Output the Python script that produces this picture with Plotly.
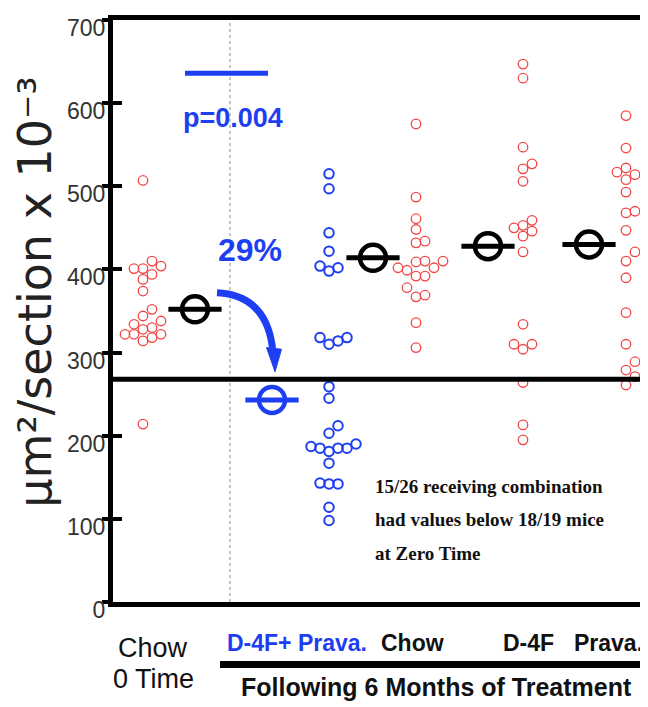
import plotly.graph_objects as go

# ---------------- data ----------------
group_labels = ["Chow 0 Time", "D-4F+ Prava.", "Chow", "D-4F", "Prava."]
chow_0_time = [507, 410, 401, 401, 404, 394, 388, 374, 352, 344, 338, 334, 328,
               330, 318, 322, 322, 322, 314, 214]
d4f_prava = [515, 497, 444, 422, 402, 398, 404, 314, 318, 310, 318, 259, 245,
             212, 203, 185, 187, 190, 181, 185, 185, 167, 142, 142, 143, 114, 98]
chow_6mo = [575, 487, 461, 448, 434, 432, 410, 410, 409, 402, 402, 399, 392,
            392, 378, 367, 369, 336, 306]
d4f_6mo = [647, 630, 547, 527, 521, 506, 459, 450, 453, 446, 440, 421, 334,
           310, 304, 310, 264, 213, 195]
prava_6mo = [585, 546, 522, 517, 514, 508, 493, 468, 470, 447, 421, 410, 390,
             348, 310, 289, 279, 271, 261]
group_means = [352, 243, 414, 428, 430]
zero_time_threshold = 268
p_bar_level = 636
y_ticks = [0, 100, 200, 300, 400, 500, 600, 700]

series = [chow_0_time, d4f_prava, chow_6mo, d4f_6mo, prava_6mo]

# ---------------- layout constants ----------------
W, H = 648, 707
BODY = 8  # default page margin of the html body
ML, MR, MT, MB = 113 - BODY, BODY, 15 - BODY, H - 602 + BODY
X_RANGE = [0.70, 6.05]
Y_RANGE = [0, 700]
PX_X = (W - ML - MR) / (X_RANGE[1] - X_RANGE[0])
PX_Y = (H - MT - MB) / (Y_RANGE[1] - Y_RANGE[0])

point_x = [1.00, 2.86, 3.73, 4.80, 5.83]
mean_x = [1.52, 2.29, 3.30, 4.45, 5.46]

RED = "#f24646"
BLUE = "#1e3ef2"
BLACK = "#000000"
point_colors = [RED, BLUE, RED, RED, RED]
mean_colors = [BLACK, BLUE, BLACK, BLACK, BLACK]


def swarm_offsets(vals, step=9.0, dw=9.0, dh=10.0):
    """Deterministic beeswarm: spread colliding points sideways (pixel space)."""
    placed = []
    offs = [0.0] * len(vals)
    order = sorted(range(len(vals)), key=lambda i: vals[i])
    for i in order:
        yi = vals[i] * PX_Y
        chosen = 0.0
        for k in [0, 1, -1, 2, -2, 3, -3, 4, -4]:
            dx = k * step
            if all(((dx - px) / dw) ** 2 + ((yi - py) / dh) ** 2 >= 1 for px, py in placed):
                chosen = dx
                break
        placed.append((chosen, yi))
        offs[i] = chosen / PX_X
    return offs


fig = go.Figure()

for vals, cx, col in zip(series, point_x, point_colors):
    offs = swarm_offsets(vals)
    fig.add_trace(go.Scatter(
        x=[cx + o for o in offs], y=vals, mode="markers",
        marker=dict(symbol="circle-open", size=9.5, color=col,
                    line=dict(width=2.0 if col == BLUE else 1.3, color=col)),
        showlegend=False, hoverinfo="y"))

for mx, mv, col in zip(mean_x, group_means, mean_colors):
    fig.add_trace(go.Scatter(
        x=[mx], y=[mv], mode="markers",
        marker=dict(symbol="line-ew", size=38, color=col, line=dict(width=5, color=col)),
        showlegend=False, hoverinfo="skip"))
    fig.add_trace(go.Scatter(
        x=[mx], y=[mv], mode="markers",
        marker=dict(symbol="circle-open", size=26, color=col, line=dict(width=4.5, color=col)),
        showlegend=False, hoverinfo="y"))

# invisible trace on the overlay axis (inside tick half)
fig.add_trace(go.Scatter(x=[X_RANGE[0]], y=[0], yaxis="y2", mode="markers",
                         marker=dict(opacity=0), showlegend=False, hoverinfo="skip"))

shapes = []
shapes.append(dict(type="line", xref="x", yref="paper", x0=1.87, x1=1.87, y0=0, y1=1,
                   line=dict(color="#8a8a8a", width=1, dash="dot"), layer="below"))
shapes.append(dict(type="line", xref="paper", yref="y", x0=0, x1=1,
                   y0=zero_time_threshold, y1=zero_time_threshold,
                   line=dict(color=BLACK, width=5)))
shapes.append(dict(type="line", xref="x", yref="y", x0=1.42, x1=2.25,
                   y0=p_bar_level, y1=p_bar_level, line=dict(color=BLUE, width=5)))
shapes.append(dict(type="path", xref="x", yref="y",
                   path="M 1.74,372 Q 2.25,369 2.30,300",
                   line=dict(color=BLUE, width=7)))
shapes.append(dict(type="path", xref="x", yref="y",
                   path="M 2.235,306 L 2.385,304 L 2.32,277 Z",
                   fillcolor=BLUE, line=dict(color=BLUE, width=1)))
shapes.append(dict(type="line", xref="paper", yref="paper", x0=(220 - 113) / 535, x1=1.05,
                   y0=(602 - 665) / 587, y1=(602 - 665) / 587,
                   line=dict(color=BLACK, width=7)))

SANS = "Liberation Sans, Arial, sans-serif"
SERIF = "Liberation Serif, Times New Roman, serif"


def py2paper(py):
    return (602 - py) / 587


LAB_Y = py2paper(643)
annotations = [
    dict(text="μm²/section x 10⁻³", xref="paper", yref="paper",
         x=(35 - 113) / 535, y=py2paper(290), textangle=-90, showarrow=False,
         font=dict(family="DejaVu Sans", size=46, color="#222222"),
         xanchor="center", yanchor="middle"),
    dict(text="<b>p=0.004</b>", xref="x", yref="y", x=1.895, y=582, showarrow=False,
         font=dict(family=SANS, size=27, color=BLUE)),
    dict(text="<b>29%</b>", xref="x", yref="y", x=2.07, y=423, showarrow=False,
         font=dict(family=SANS, size=32, color=BLUE)),
    dict(text="<b>15/26 receiving combination</b>", xref="x", yref="y", x=3.30, y=139,
         xanchor="left", showarrow=False, font=dict(family=SERIF, size=19, color="#111111")),
    dict(text="<b>had values below 18/19 mice</b>", xref="x", yref="y", x=3.30, y=99,
         xanchor="left", showarrow=False, font=dict(family=SERIF, size=19, color="#111111")),
    dict(text="<b>at Zero Time</b>", xref="x", yref="y", x=3.30, y=58,
         xanchor="left", showarrow=False, font=dict(family=SERIF, size=19, color="#111111")),
    dict(text="Chow", xref="x", yref="paper", x=1.10, y=py2paper(648), showarrow=False,
         xanchor="center", yanchor="middle",
         font=dict(family=SANS, size=27, color="#111111")),
    dict(text="0 Time", xref="x", yref="paper", x=1.10, y=py2paper(680), showarrow=False,
         xanchor="center", yanchor="middle",
         font=dict(family=SANS, size=27, color="#111111")),
    dict(text="<b>" + group_labels[1] + "</b>", xref="x", yref="paper", x=1.82, y=LAB_Y,
         xanchor="left", yanchor="middle", showarrow=False,
         font=dict(family=SANS, size=23, color=BLUE)),
    dict(text="<b>" + group_labels[2] + "</b>", xref="x", yref="paper", x=3.69, y=LAB_Y,
         xanchor="center", yanchor="middle", showarrow=False,
         font=dict(family=SANS, size=23, color="#111111")),
    dict(text="<b>" + group_labels[3] + "</b>", xref="x", yref="paper", x=4.85, y=LAB_Y,
         xanchor="center", yanchor="middle", showarrow=False,
         font=dict(family=SANS, size=23, color="#111111")),
    dict(text="<b>" + group_labels[4] + "</b>", xref="x", yref="paper", x=5.29, y=LAB_Y,
         xanchor="left", yanchor="middle", showarrow=False,
         font=dict(family=SANS, size=23, color="#111111")),
    dict(text="<b>Following 6 Months of Treatment</b>", xref="paper", yref="paper",
         x=(436.5 - 113) / 535, y=py2paper(688), showarrow=False,
         xanchor="center", yanchor="middle",
         font=dict(family=SANS, size=25, color="#111111")),
]

fig.update_layout(
    width=W, height=H,
    margin=dict(l=ML, r=MR, t=MT, b=MB, pad=0),
    paper_bgcolor="white", plot_bgcolor="white",
    showlegend=False,
    xaxis=dict(range=X_RANGE, showgrid=False, zeroline=False, showticklabels=False,
               ticks="", showline=True, linewidth=5, linecolor=BLACK, mirror=True),
    yaxis=dict(range=Y_RANGE, tickvals=y_ticks, ticks="outside", ticklen=6, tickwidth=4,
               tickcolor=BLACK, showgrid=False, zeroline=False, showline=True,
               linewidth=5, linecolor=BLACK, ticklabelshift=8, ticklabelstandoff=-8,
               tickfont=dict(family=SANS, size=23, color="#333333")),
    yaxis2=dict(range=Y_RANGE, overlaying="y", side="left", tickvals=y_ticks,
                ticks="inside", ticklen=9, tickwidth=4, tickcolor=BLACK,
                showticklabels=False, showgrid=False, zeroline=False, showline=False),
    shapes=shapes,
    annotations=annotations,
)

fig.write_html("out.html")
